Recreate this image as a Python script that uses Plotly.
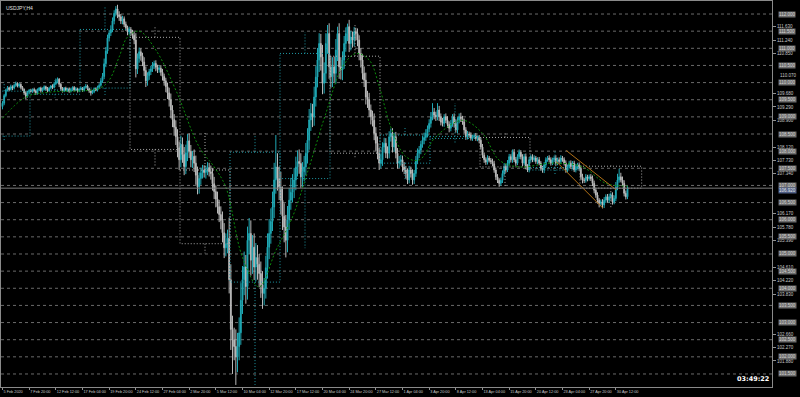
import plotly.graph_objects as go

# ---------------- data ----------------
symbol_label = "USDJPY,H4"
countdown_text = "03:49:22"
first_open = 109.30

closes = [
    109.40,109.62,109.78,109.85,109.80,109.88,109.84,109.92,109.98,109.90,
    109.95,109.86,109.80,109.70,109.60,109.72,109.78,109.74,109.80,109.76,
    109.70,109.78,109.84,109.76,109.80,109.88,109.82,109.76,109.84,109.90,
    109.86,109.96,110.04,110.10,109.95,109.82,109.76,109.84,109.78,109.82,
    109.74,109.80,109.86,109.78,109.82,109.76,109.80,109.84,109.78,109.86,
    109.90,109.82,109.76,109.70,109.74,109.82,109.78,109.86,109.92,110.05,
    110.18,110.55,110.92,111.30,111.45,111.55,111.80,112.02,112.15,111.98,
    111.92,111.80,111.86,111.70,111.60,111.48,111.55,111.45,111.38,111.24,
    110.40,110.70,110.90,110.78,110.60,110.35,110.05,110.20,110.32,110.40,
    110.50,110.56,110.45,110.38,110.42,110.30,110.18,110.05,109.88,109.70,
    109.50,109.20,108.92,108.70,108.42,108.10,107.75,108.20,107.90,107.55,
    107.95,108.30,108.00,107.75,107.85,107.65,107.30,106.96,107.20,107.36,
    107.45,107.38,107.46,107.52,107.40,107.35,107.05,106.82,106.60,106.38,
    106.15,105.98,105.62,105.18,105.30,105.46,104.25,102.80,102.50,102.30,
    102.00,102.30,102.70,103.65,104.25,104.62,104.05,105.40,105.60,104.82,
    105.20,104.62,104.90,104.70,104.43,104.10,103.85,104.00,104.60,105.20,
    105.60,105.95,106.37,107.16,107.54,107.20,106.95,106.57,106.10,105.79,
    105.40,106.00,106.57,106.80,106.95,107.16,107.54,107.70,107.64,107.25,
    107.40,107.54,107.94,108.32,108.91,109.10,109.00,109.58,110.16,110.66,
    111.14,110.75,109.98,110.27,111.14,111.43,110.46,110.17,110.46,110.27,
    110.95,111.43,110.46,110.37,110.66,111.14,111.43,111.63,111.14,111.33,
    111.24,111.48,111.43,111.24,110.85,110.66,110.27,110.07,109.58,109.50,
    109.20,109.00,108.90,108.52,108.23,107.94,107.65,107.75,108.12,108.23,
    107.94,107.94,108.42,108.52,108.12,108.42,107.94,107.65,107.70,107.75,
    107.54,107.45,107.35,107.16,107.45,107.35,107.16,107.35,107.74,107.94,
    108.03,108.20,108.32,108.40,108.52,108.65,108.81,109.00,109.14,109.05,
    109.00,109.20,109.00,108.85,108.81,109.00,108.90,108.78,108.67,108.81,
    109.00,108.81,108.62,108.90,109.00,108.95,108.85,108.62,108.42,108.50,
    108.47,108.38,108.42,108.45,108.37,108.40,108.32,108.12,107.88,107.75,
    107.68,107.80,107.73,107.70,107.63,107.45,107.25,107.15,107.06,107.15,
    107.35,107.55,107.45,107.65,107.84,107.75,107.97,107.75,107.65,107.84,
    107.97,107.84,107.65,107.84,107.55,107.45,107.75,107.84,107.75,107.80,
    107.70,107.75,107.65,107.50,107.45,107.60,107.75,107.80,107.75,107.65,
    107.75,107.80,107.65,107.75,107.70,107.80,107.75,107.65,107.45,107.55,
    107.65,107.55,107.65,107.45,107.55,107.60,107.50,107.25,107.15,107.15,
    107.25,107.20,107.25,107.20,107.06,106.86,106.72,106.57,106.48,106.52,
    106.43,106.57,106.67,106.57,106.67,106.72,106.52,106.62,106.95,107.16,
    107.25,107.16,107.06,106.77,106.67,106.92,
]

# upper / lower wick lengths in hundredths of a yen
wick_up = [
    6,5,4,5,3,6,4,5,5,3,4,3,4,3,5,4,3,4,3,5,
    4,5,3,4,6,4,3,5,4,3,5,6,8,5,3,4,5,3,4,3,
    4,5,3,4,5,3,4,5,3,4,6,4,3,4,5,3,4,5,6,8,
    10,15,12,10,8,12,10,9,8,12,10,8,9,7,8,6,8,7,9,10,
    20,15,12,10,9,14,12,10,8,9,10,8,9,7,8,9,10,8,9,12,
    15,18,14,16,20,22,18,25,20,22,24,20,22,18,16,20,22,25,18,16,
    15,14,12,16,14,18,15,20,18,22,20,24,26,28,30,25,60,45,40,35,
    50,40,45,50,40,45,35,40,45,38,35,40,42,36,30,35,40,30,35,40,
    42,38,45,50,93,40,35,45,40,38,35,40,36,42,38,35,30,32,35,30,
    28,32,30,35,32,30,28,30,32,35,30,28,35,32,30,25,30,32,28,30,
    32,20,30,28,25,22,18,9,20,18,16,14,12,15,14,16,18,20,22,18,
    20,16,18,20,18,20,15,18,14,16,15,20,16,14,15,12,14,15,16,14,
    12,14,12,15,12,10,12,10,12,14,12,10,12,14,12,10,12,14,26,12,
    10,20,12,10,12,8,10,12,9,10,8,10,12,9,10,12,8,10,8,9,
    7,8,6,7,8,6,7,8,9,8,7,8,6,7,8,9,7,8,6,8,
    9,10,8,9,8,7,8,9,8,7,8,6,7,8,9,7,8,6,7,8,
    6,7,8,6,7,8,7,6,8,7,6,7,8,6,7,8,6,7,8,6,
    7,8,6,7,8,6,7,8,9,7,8,6,7,8,9,8,7,8,6,7,
    8,9,7,8,9,7,8,9,15,18,24,12,10,9,8,6,
]
wick_dn = [
    8,6,5,4,5,3,6,4,5,4,5,6,4,6,8,4,5,3,4,5,
    6,4,3,5,4,3,5,4,3,4,5,3,4,6,8,6,5,4,3,5,
    4,3,5,4,3,5,4,3,5,4,3,5,6,8,4,5,3,4,5,4,
    6,8,10,8,10,9,8,10,9,10,12,9,10,8,9,10,8,9,10,12,
    25,15,12,14,12,16,18,14,12,10,9,10,12,10,9,10,12,14,16,18,
    20,24,22,25,24,28,30,22,24,25,22,24,20,22,24,26,28,22,20,18,
    16,15,18,16,14,18,20,22,24,20,22,26,28,30,25,28,40,60,100,40,
    82,45,40,35,40,45,50,38,40,45,40,38,42,45,40,38,45,35,30,32,
    35,30,28,32,40,35,38,42,40,45,50,35,30,28,30,32,30,28,30,32,
    30,28,25,30,28,32,30,26,28,30,35,40,32,30,28,30,35,32,30,28,
    30,32,35,28,30,26,24,22,25,20,22,18,20,18,20,22,18,20,22,24,
    20,22,18,20,22,18,20,15,18,16,14,16,15,14,16,14,15,16,14,12,
    14,12,15,12,10,12,14,12,10,12,14,12,10,12,10,12,10,12,10,12,
    12,10,12,10,9,10,8,10,12,9,10,12,8,10,9,10,8,10,9,8,
    8,7,8,6,7,8,9,7,8,9,8,7,6,8,7,8,9,8,10,7,
    8,7,8,6,7,8,9,7,8,6,7,8,9,7,8,6,7,8,7,6,
    7,8,6,7,8,9,7,6,8,7,6,7,8,6,7,8,6,7,8,7,
    6,7,8,6,7,8,7,8,9,8,7,8,6,7,8,9,8,10,12,8,
    10,9,8,7,8,9,8,7,8,9,8,7,8,9,8,7,
]

# moving average (green dotted), read at sample bars
ma_idx = [0,14,28,58,64,70,75,82,92,104,118,127,134,144,154,164,174,184,194,
          204,212,220,226,233,242,250,260,276,288,298,310,330,348,362,375]
ma_val = [108.96,109.58,109.72,109.83,110.07,110.75,111.33,111.50,110.95,109.78,
          108.12,107.54,106.95,104.90,104.04,105.10,106.08,107.54,109.10,110.46,
          110.85,110.66,109.90,108.70,107.84,107.74,108.42,108.90,108.52,107.74,
          107.54,107.65,107.54,107.06,106.98]

# weekly candles drawn as dotted boxes
week_start = [-14, 17, 47, 77, 107, 137, 167, 197, 227, 257, 287, 317, 347]
week_end   = [16, 46, 76, 106, 136, 166, 196, 226, 256, 286, 316, 346, 383]
week_open  = [108.44,109.66,109.84,111.32,107.45,104.18,107.20,110.77,107.65,108.37,108.40,107.45,107.56]
week_close = [109.75,109.78,111.55,108.05,105.30,107.97,110.85,107.94,108.47,108.43,107.54,107.52,106.92]
week_high  = [110.02,110.12,112.25,111.62,108.56,108.47,111.47,111.68,108.70,109.40,108.52,108.03,107.58]
week_low   = [108.31,109.56,109.64,107.54,105.02,101.18,105.17,107.80,107.15,108.23,106.95,107.30,106.34]

# descending channel (two trend lines)
trend_x0 = [338.2, 332.2]
trend_y0 = [108.02, 107.70]
trend_x1 = [368.2, 360.2]
trend_y1 = [106.87, 106.34]

# price levels with boxed labels
round_levels = [101.5,102.0,102.5,103.0,103.5,104.0,104.5,105.0,105.5,106.0,106.5,
                107.0,107.5,108.0,108.5,109.0,109.5,110.0,110.5,111.0,111.5,112.0]

# price-scale labels that remain visible between the boxed level labels
y_ticks = [101.880,102.270,102.660,103.830,104.220,104.610,105.390,105.780,106.170,
           107.340,107.730,108.120,108.900,109.290,109.680,110.850,
           111.240,111.630]
# scale label squeezed just above the 110.000 box
y_tick_near_box = 110.070

x_tick_idx = [0,16,32,48,64,80,96,112,128,144,160,176,192,208,224,240,256,272,
              288,304,320,336,352,368]
x_tick_labels = ["5 Feb 2020","7 Feb 20:00","12 Feb 12:00","17 Feb 04:00","19 Feb 20:00",
                 "24 Feb 12:00","27 Feb 04:00","2 Mar 20:00","5 Mar 12:00","10 Mar 04:00",
                 "12 Mar 20:00","17 Mar 12:00","20 Mar 04:00","24 Mar 20:00","27 Mar 12:00",
                 "1 Apr 04:00","3 Apr 20:00","8 Apr 12:00","13 Apr 04:00","15 Apr 20:00",
                 "20 Apr 12:00","23 Apr 04:00","27 Apr 20:00","30 Apr 12:00"]

assert len(wick_up) == len(closes) == len(wick_dn)

# ---------------- build ----------------
n = len(closes)
idx = list(range(n))
opens = [first_open] + closes[:-1]
highs = [max(o, c) + u / 100 for o, c, u in zip(opens, closes, wick_up)]
lows = [min(o, c) - d / 100 for o, c, d in zip(opens, closes, wick_dn)]

BULL = "#2cc0cc"
BULL_LINE = "#1fa8b4"
BEAR = "#f4f4f4"
BEAR_LINE = "#b8b8b8"
FONT = "Liberation Sans"

fig = go.Figure()

# round-level dashed lines
for lv in round_levels:
    fig.add_shape(type="line", xref="paper", x0=0, x1=1, yref="y", y0=lv, y1=lv,
                  line=dict(color="#6a6a6a", width=1, dash="3px,3px"), layer="below")

# weekly boxes
for s, e, o, c, h, l in zip(week_start, week_end, week_open, week_close, week_high, week_low):
    col = "#1f98a4" if c >= o else "#a8a8a8"
    top, bot = max(o, c), min(o, c)
    mid = (s + e) / 2
    fig.add_trace(go.Scatter(
        x=[s - 0.5, e + 0.5, e + 0.5, s - 0.5, s - 0.5],
        y=[top, top, bot, bot, top], mode="lines",
        line=dict(color=col, width=1, dash="1px,2px"), hoverinfo="skip"))
    fig.add_trace(go.Scatter(x=[mid, mid], y=[top, h], mode="lines",
                             line=dict(color=col, width=1, dash="1px,2px"), hoverinfo="skip"))
    fig.add_trace(go.Scatter(x=[mid, mid], y=[bot, l], mode="lines",
                             line=dict(color=col, width=1, dash="1px,2px"), hoverinfo="skip"))

# current price line
fig.add_shape(type="line", xref="paper", x0=0, x1=1, yref="y", y0=closes[-1], y1=closes[-1],
              line=dict(color="#7c7c7c", width=1))

# moving average
fig.add_trace(go.Scatter(x=ma_idx, y=ma_val, mode="lines",
                         line=dict(color="#0c8c0c", width=1, dash="2px,2px",
                                   shape="spline", smoothing=1.0),
                         hoverinfo="skip"))

# candles
fig.add_trace(go.Candlestick(
    x=idx, open=opens, high=highs, low=lows, close=closes,
    increasing=dict(line=dict(color=BULL_LINE, width=1), fillcolor=BULL),
    decreasing=dict(line=dict(color=BEAR_LINE, width=1), fillcolor=BEAR),
    whiskerwidth=0, hoverinfo="skip"))

# trend channel
for a, b, c2, d in zip(trend_x0, trend_y0, trend_x1, trend_y1):
    fig.add_trace(go.Scatter(x=[a, c2], y=[b, d], mode="lines",
                             line=dict(color="#b07018", width=1), hoverinfo="skip"))

# boxed labels for the round levels
for lv in round_levels:
    fig.add_annotation(xref="paper", x=1, xanchor="left", xshift=6, yref="y", y=lv,
                       text=f"{lv:.3f}", showarrow=False, bgcolor="#6c6c6c",
                       borderpad=0, font=dict(size=4.5, color="#d4d4d4", family=FONT))

# 110.070 scale label, nudged clear of its neighbouring box
fig.add_annotation(xref="paper", x=1, xanchor="left", xshift=6, yref="y", y=y_tick_near_box,
                   yanchor="bottom", yshift=0, text=f"{y_tick_near_box:.3f}", showarrow=False,
                   font=dict(size=4.5, color="#c8c8c8", family=FONT))

# current price label
fig.add_annotation(xref="paper", x=1, xanchor="left", xshift=6, yref="y", y=closes[-1],
                   yshift=-2, text=f"{closes[-1]:.3f}", showarrow=False, bgcolor="#4f5f86",
                   borderpad=0, font=dict(size=4.5, color="#e8e8e8", family=FONT))

fig.add_annotation(xref="paper", yref="paper", x=0, y=1, xanchor="left", yanchor="top",
                   xshift=3, yshift=-2, text=symbol_label, showarrow=False,
                   font=dict(size=5, color="#e0e0e0", family=FONT))
fig.add_annotation(xref="paper", yref="paper", x=1, y=0, xanchor="right", yanchor="bottom",
                   xshift=-1, yshift=2, text=f"<b>{countdown_text}</b>", showarrow=False,
                   font=dict(size=6.5, color="#ffffff", family="DejaVu Sans"))

fig.update_layout(
    width=800, height=397,
    margin=dict(l=1, r=28, t=1, b=10),
    paper_bgcolor="#000000", plot_bgcolor="#000000",
    showlegend=False, hovermode=False,
    xaxis=dict(range=[-0.9, 461.7], rangeslider=dict(visible=False), showgrid=False,
               zeroline=False, tickmode="array", tickvals=x_tick_idx, ticktext=x_tick_labels,
               tickangle=0, ticks="outside", ticklen=2, tickcolor="#909090",
               ticklabelposition="outside right",
               tickfont=dict(size=3.8, color="#c8c8c8", family=FONT),
               showline=True, linecolor="#8a8a8a", linewidth=1, mirror=True),
    yaxis=dict(range=[101.12, 112.38], side="right", showgrid=False, zeroline=False,
               tickmode="array", tickvals=y_ticks, ticktext=[f"{v:.3f}" for v in y_ticks],
               ticks="outside", ticklen=3, tickcolor="#909090",
               tickfont=dict(size=4.5, color="#c8c8c8", family=FONT),
               showline=True, linecolor="#8a8a8a", linewidth=1, mirror=True),
)

fig.write_html("out.html", config={"displayModeBar": False})
